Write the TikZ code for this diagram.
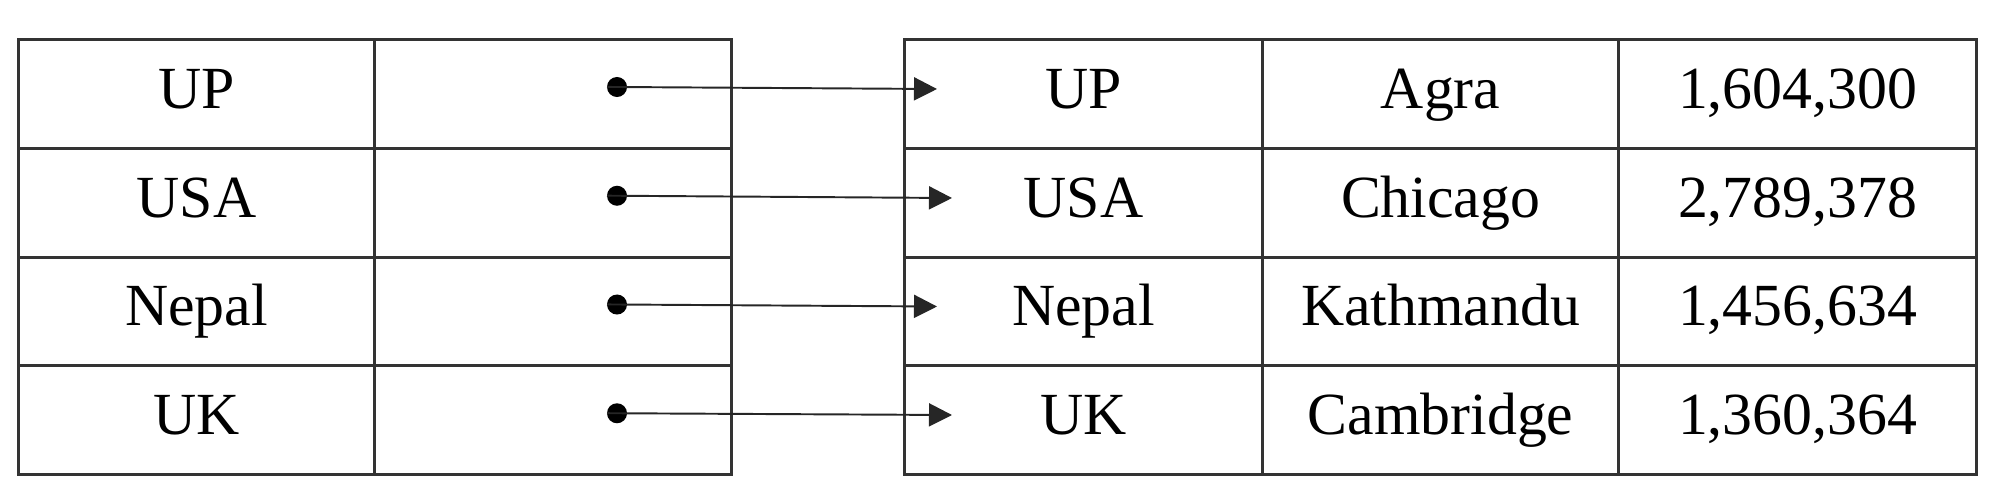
\documentclass[tikz,border=0pt]{standalone}
\usepackage{fontspec}
\setmainfont{Liberation Serif}
\usetikzlibrary{arrows.meta}
\begin{document}
\begin{tikzpicture}[x=0.01cm,y=-0.01cm,
  cellbox/.style={draw=black!80, line width=0.85pt, anchor=north west, inner sep=0pt,
    minimum height=10.875mm, text height=12pt, text depth=3.8pt,
    font=\fontsize{17}{20}\selectfont},
  dotmark/.style={circle, fill=black, inner sep=0pt, minimum size=2mm},
  linkarrow/.style={line width=0.55pt, draw=black!85,
    -{Triangle[length=2.3mm,width=2.3mm]}, shorten <=-1mm}
]
\useasboundingbox (0,0) rectangle (2000,497);
\foreach \i/\c/\city/\pop in {1/UP/Agra/{1,604,300},2/USA/Chicago/{2,789,378},3/Nepal/Kathmandu/{1,456,634},4/UK/Cambridge/{1,360,364}}{
  \pgfmathsetmacro{\top}{38+(\i-1)*108.75}
  \node[cellbox, minimum width=35.6mm] (L\i a) at (17,\top) {\c};
  \node[cellbox, minimum width=35.7mm] (L\i b) at (373,\top) {};
  \node[cellbox, minimum width=35.8mm] (R\i a) at (903,\top) {\c};
  \node[cellbox, minimum width=35.6mm] (R\i b) at (1261,\top) {\city};
  \node[cellbox, minimum width=35.8mm] (R\i c) at (1617,\top) {\pop};
  \node[dotmark] (D\i) at (617,\top+49) {};
}
\coordinate (E1) at (937,89);
\coordinate (E2) at (952,198);
\coordinate (E3) at (937,306.5);
\coordinate (E4) at (952,415);
\foreach \i in {1,...,4}{
  \draw[linkarrow] (D\i.center) -- (E\i);
}
\end{tikzpicture}
\end{document}
